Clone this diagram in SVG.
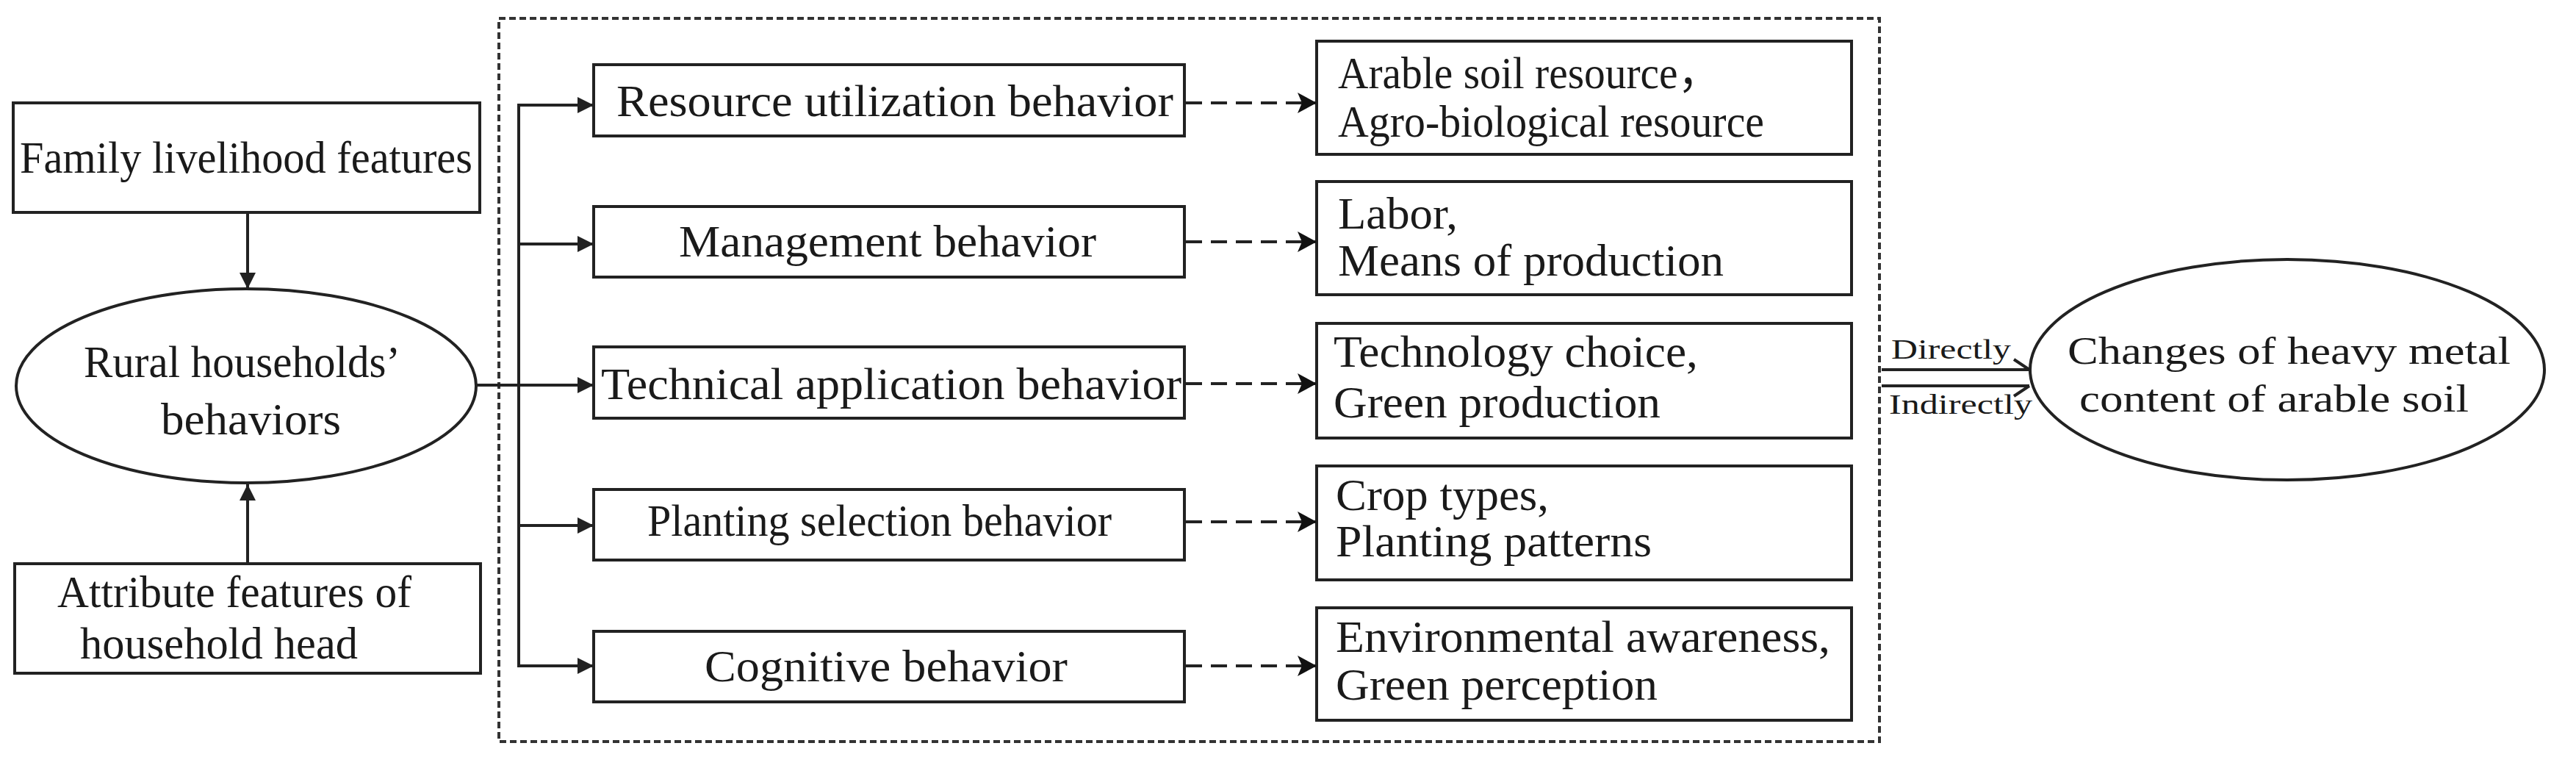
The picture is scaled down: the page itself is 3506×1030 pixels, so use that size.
<svg xmlns="http://www.w3.org/2000/svg" width="3506" height="1030" viewBox="0 0 3506 1030">
<style>
  .box { fill: #ffffff; stroke: #222; stroke-width: 4; }
  .ell { fill: #ffffff; stroke: #222; stroke-width: 4; }
  .t { font-family: "Liberation Serif", "Times New Roman", "Noto Sans CJK SC", serif; font-size: 61px; fill: #1a1a1a; }
  .te { font-family: "Liberation Serif", "Times New Roman", serif; font-size: 52px; fill: #1a1a1a; }
  .ts { font-family: "Liberation Serif", "Times New Roman", serif; font-size: 37px; fill: #1a1a1a; }
  .solid { fill: none; stroke: #222; stroke-width: 4; }
  .dash { fill: none; stroke: #222; stroke-width: 4; stroke-dasharray: 22 12; }
  .frame { fill: none; stroke: #333; stroke-width: 4; stroke-dasharray: 9 5; }
</style>
<defs>
  <marker id="arr" markerUnits="userSpaceOnUse" markerWidth="24" markerHeight="22" refX="22" refY="11" orient="auto">
    <path d="M0,0 L22,11 L0,22 z" fill="#222"/>
  </marker>
  <marker id="arrd" markerUnits="userSpaceOnUse" markerWidth="28" markerHeight="28" refX="26" refY="14" orient="auto">
    <path d="M0,0 L26,14 L0,28 L6,14 z" fill="#111"/>
  </marker>
</defs>

<rect id="frame" class="frame" x="679" y="25" width="1879" height="984"/>

<g id="family">
  <rect class="box" x="18" y="140" width="635" height="149"/>
  <text class="t" x="27" y="235" textLength="616" lengthAdjust="spacingAndGlyphs">Family livelihood features</text>
</g>
<g id="rural">
  <ellipse class="ell" cx="335" cy="525" rx="313" ry="132"/>
  <text class="t" x="114" y="513" textLength="431" lengthAdjust="spacingAndGlyphs">Rural households’</text>
  <text class="t" x="219" y="591" textLength="245" lengthAdjust="spacingAndGlyphs">behaviors</text>
</g>
<g id="attribute">
  <rect class="box" x="20" y="767" width="634" height="149"/>
  <text class="t" x="78" y="826" textLength="482" lengthAdjust="spacingAndGlyphs">Attribute features of</text>
  <text class="t" x="109" y="896" textLength="378" lengthAdjust="spacingAndGlyphs">household head</text>
</g>

<g id="b1">
  <rect class="box" x="808" y="88" width="804" height="97"/>
  <text class="t" x="839" y="158" textLength="758" lengthAdjust="spacingAndGlyphs">Resource utilization behavior</text>
</g>
<g id="b2">
  <rect class="box" x="808" y="281" width="804" height="96"/>
  <text class="t" x="924" y="349" textLength="568" lengthAdjust="spacingAndGlyphs">Management behavior</text>
</g>
<g id="b3">
  <rect class="box" x="808" y="472" width="804" height="97"/>
  <text class="t" x="818" y="543" textLength="790" lengthAdjust="spacingAndGlyphs">Technical application behavior</text>
</g>
<g id="b4">
  <rect class="box" x="808" y="666" width="804" height="96"/>
  <text class="t" x="881" y="729" textLength="632" lengthAdjust="spacingAndGlyphs">Planting selection behavior</text>
</g>
<g id="b5">
  <rect class="box" x="808" y="859" width="804" height="96"/>
  <text class="t" x="959" y="927" textLength="494" lengthAdjust="spacingAndGlyphs">Cognitive behavior</text>
</g>

<g id="r1">
  <rect class="box" x="1792" y="56" width="728" height="154"/>
  <text class="t" x="1821" y="120" textLength="520" lengthAdjust="spacingAndGlyphs">Arable soil resource，</text>
  <text class="t" x="1821" y="186" textLength="580" lengthAdjust="spacingAndGlyphs">Agro-biological resource</text>
</g>
<g id="r2">
  <rect class="box" x="1792" y="247" width="728" height="154"/>
  <text class="t" x="1821" y="311" textLength="163" lengthAdjust="spacingAndGlyphs">Labor,</text>
  <text class="t" x="1821" y="375" textLength="525" lengthAdjust="spacingAndGlyphs">Means of production</text>
</g>
<g id="r3">
  <rect class="box" x="1792" y="440" width="728" height="156"/>
  <text class="t" x="1815" y="499" textLength="496" lengthAdjust="spacingAndGlyphs">Technology choice,</text>
  <text class="t" x="1815" y="568" textLength="445" lengthAdjust="spacingAndGlyphs">Green production</text>
</g>
<g id="r4">
  <rect class="box" x="1792" y="634" width="728" height="155"/>
  <text class="t" x="1818" y="694" textLength="290" lengthAdjust="spacingAndGlyphs">Crop types,</text>
  <text class="t" x="1818" y="757" textLength="430" lengthAdjust="spacingAndGlyphs">Planting patterns</text>
</g>
<g id="r5">
  <rect class="box" x="1792" y="827" width="728" height="153"/>
  <text class="t" x="1818" y="887" textLength="673" lengthAdjust="spacingAndGlyphs">Environmental awareness,</text>
  <text class="t" x="1818" y="952" textLength="438" lengthAdjust="spacingAndGlyphs">Green perception</text>
</g>

<g id="result">
  <ellipse class="ell" cx="3113" cy="503" rx="350" ry="150"/>
  <text class="te" x="2814" y="495" textLength="603" lengthAdjust="spacingAndGlyphs">Changes of heavy metal</text>
  <text class="te" x="2830" y="560" textLength="530" lengthAdjust="spacingAndGlyphs">content of arable soil</text>
</g>

<g id="connectors">
  <line class="solid" x1="337" y1="289" x2="337" y2="393" marker-end="url(#arr)"/>
  <line class="solid" x1="337" y1="767" x2="337" y2="659" marker-end="url(#arr)"/>
  <line class="solid" x1="646" y1="524" x2="708" y2="524"/>
  <line class="solid" x1="706" y1="141" x2="706" y2="908"/>
  <line class="solid" x1="704" y1="143" x2="808" y2="143" marker-end="url(#arr)"/>
  <line class="solid" x1="704" y1="332" x2="808" y2="332" marker-end="url(#arr)"/>
  <line class="solid" x1="704" y1="524" x2="808" y2="524" marker-end="url(#arr)"/>
  <line class="solid" x1="704" y1="715" x2="808" y2="715" marker-end="url(#arr)"/>
  <line class="solid" x1="704" y1="906" x2="808" y2="906" marker-end="url(#arr)"/>

  <line class="dash" x1="1614" y1="140" x2="1792" y2="140" marker-end="url(#arrd)"/>
  <line class="dash" x1="1614" y1="329" x2="1792" y2="329" marker-end="url(#arrd)"/>
  <line class="dash" x1="1614" y1="522" x2="1792" y2="522" marker-end="url(#arrd)"/>
  <line class="dash" x1="1614" y1="710" x2="1792" y2="710" marker-end="url(#arrd)"/>
  <line class="dash" x1="1614" y1="906" x2="1792" y2="906" marker-end="url(#arrd)"/>

  <path class="solid" d="M2561,503 H2762 M2762,503 L2741,489"/>
  <path class="solid" d="M2561,525 H2762 M2762,525 L2741,539"/>
  <text class="ts" x="2574" y="488" textLength="163" lengthAdjust="spacingAndGlyphs">Directly</text>
  <text class="ts" x="2571" y="563" textLength="195" lengthAdjust="spacingAndGlyphs">Indirectly</text>
</g>
</svg>
